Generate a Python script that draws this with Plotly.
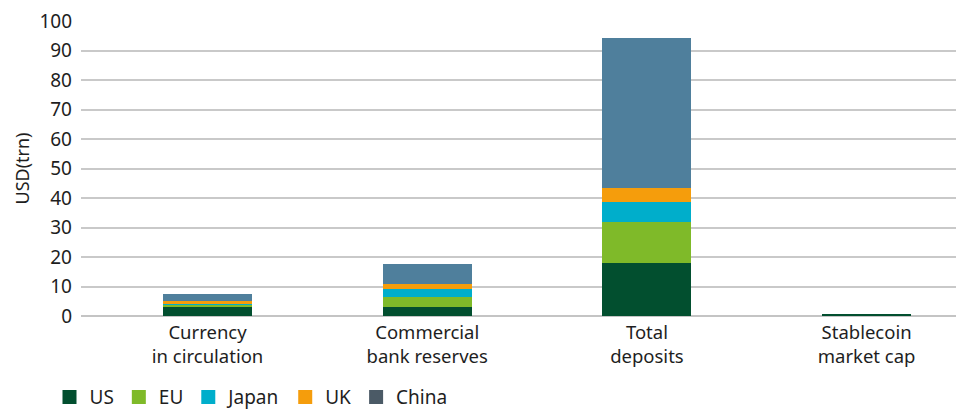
import plotly.graph_objects as go

categories = ["Currency<br>in circulation", "Commercial<br>bank reserves", "Total<br>deposits", "Stablecoin<br>market cap"]
us = [2.9, 3.2, 17.9, 0.8]
eu = [1.0, 3.1, 13.8, 0]
japan = [0.1, 3.0, 6.9, 0]
uk = [1.0, 1.7, 4.8, 0]
china = [2.4, 6.5, 51.0, 0]

series_names = ["US", "EU", "Japan", "UK", "China"]
series_values = [us, eu, japan, uk, china]
bar_colors = ["#024f2f", "#7fba29", "#00aecb", "#f59d0c", "#4f7f9c"]
legend_colors = ["#024f2f", "#7fba29", "#00aecb", "#f59d0c", "#4b5a66"]

FONT = "Noto Sans"
TXT = "#1e1e1e"
FS = 19

fig = go.Figure()
for name, vals, col in zip(series_names, series_values, bar_colors):
    fig.add_trace(go.Bar(x=categories, y=vals, name=name, marker=dict(color=col, line=dict(width=0)),
                         width=0.405, showlegend=False))
for name, col in zip(series_names, legend_colors):
    fig.add_trace(go.Scatter(x=[None], y=[None], mode="markers", name=name,
                             marker=dict(symbol="square", size=14, color=col)))

fig.update_layout(
    barmode="stack",
    width=956, height=412,
    margin=dict(l=81, r=0, t=21, b=96, autoexpand=False),
    plot_bgcolor="white", paper_bgcolor="white",
    font=dict(family=FONT, size=FS, color=TXT),
    legend=dict(orientation="h", x=-0.036, xanchor="left", y=-0.275, yanchor="middle",
                font=dict(family=FONT, size=FS, color=TXT), traceorder="normal",
                bgcolor="rgba(0,0,0,0)"),
)
fig.update_xaxes(type="category", range=[-0.576, 3.407], showgrid=False, showline=False,
                 ticks="", automargin=False, ticklabelstandoff=3,
                 tickfont=dict(family=FONT, size=18.5, color=TXT))
fig.update_yaxes(range=[0, 100], dtick=10, showgrid=True, gridcolor="#c9c9c9", gridwidth=1.5,
                 zeroline=True, zerolinecolor="#c4c4c4", zerolinewidth=2, showline=False,
                 ticks="", ticklabelstandoff=8, automargin=False,
                 tickfont=dict(family=FONT, size=FS, color=TXT),
                 title=dict(text="USD(trn)", font=dict(family=FONT, size=18, color=TXT), standoff=5))

fig.write_html("out.html")
